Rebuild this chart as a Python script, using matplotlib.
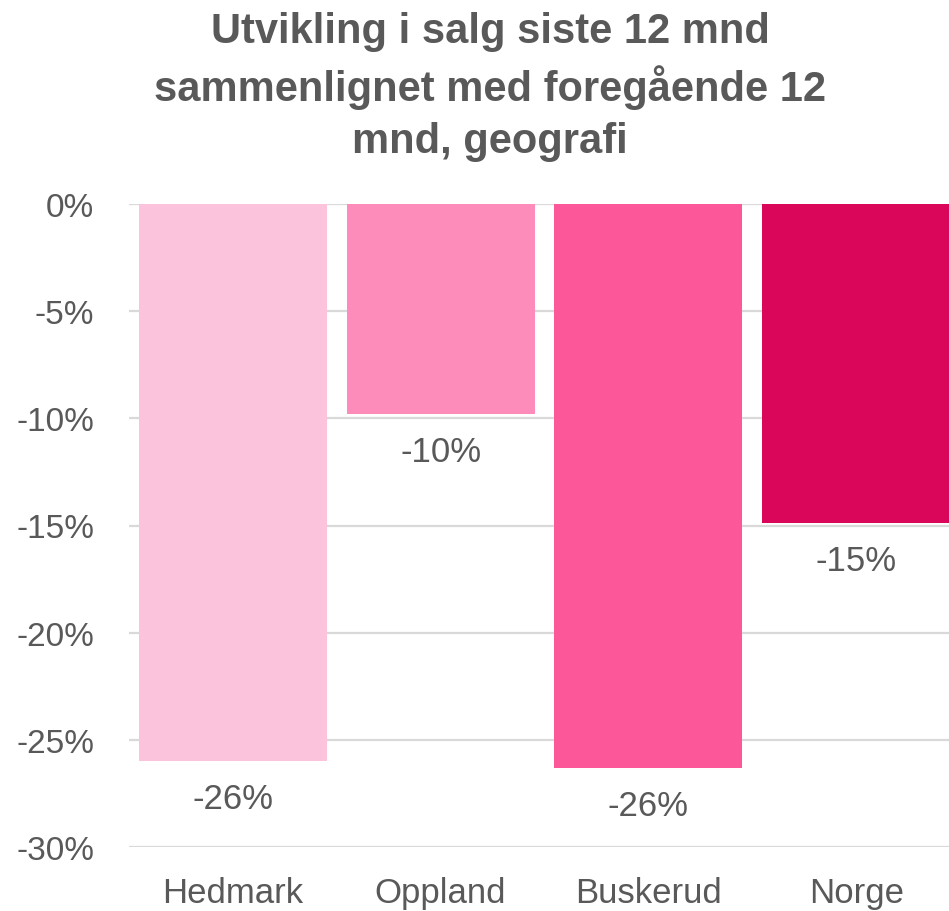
import matplotlib
matplotlib.use("Agg")
import matplotlib.pyplot as plt
from matplotlib.ticker import FuncFormatter

# data
regions = ["Hedmark", "Oppland", "Buskerud", "Norge"]
change_pct = [-26.0, -9.8, -26.3, -14.9]
bar_colors = ["#FBC4DC", "#FD8CBB", "#FC5799", "#D90659"]
yticks = [0, -5, -10, -15, -20, -25, -30]
title = "Utvikling i salg siste 12 mnd\nsammenlignet med foregående 12\nmnd, geografi"

text_col = "#595959"
plt.rcParams["font.family"] = ["Liberation Sans", "DejaVu Sans"]

W, H = 949, 912
fig = plt.figure(figsize=(W / 100, H / 100), dpi=100)
ax = fig.add_axes([129 / W, 1 - 848 / H, (960 - 129) / W, (848 - 205) / H])

x = range(len(regions))
bars = ax.bar(x, change_pct, width=0.905, color=bar_colors, zorder=2)

ax.set_ylim(-30, 0)
ax.set_xlim(-0.5, len(regions) - 0.5)
ax.set_yticks(yticks)
ax.yaxis.set_major_formatter(FuncFormatter(lambda v, p: f"{v:.0f}%"))
ax.set_xticks(list(x))
ax.set_xticklabels(regions)
ax.tick_params(axis="both", length=0, colors=text_col)
ax.tick_params(axis="y", pad=25, labelsize=24)
ax.tick_params(axis="x", pad=21, labelsize=25)
ax.grid(axis="y", color="#D9D9D9", linewidth=1.6, zorder=0)
for s in ax.spines.values():
    s.set_visible(False)

for i, v in enumerate(change_pct):
    ax.annotate(f"{v:.0f}%", (i, v), xytext=(0, -27), textcoords="offset points",
                ha="center", va="center", fontsize=25, color=text_col)

fig.text(490 / W, 1 - 12 / H, title, ha="center", va="top", fontsize=30,
         fontweight="bold", color=text_col, linespacing=1.38)

fig.savefig("out.png", dpi=100)
